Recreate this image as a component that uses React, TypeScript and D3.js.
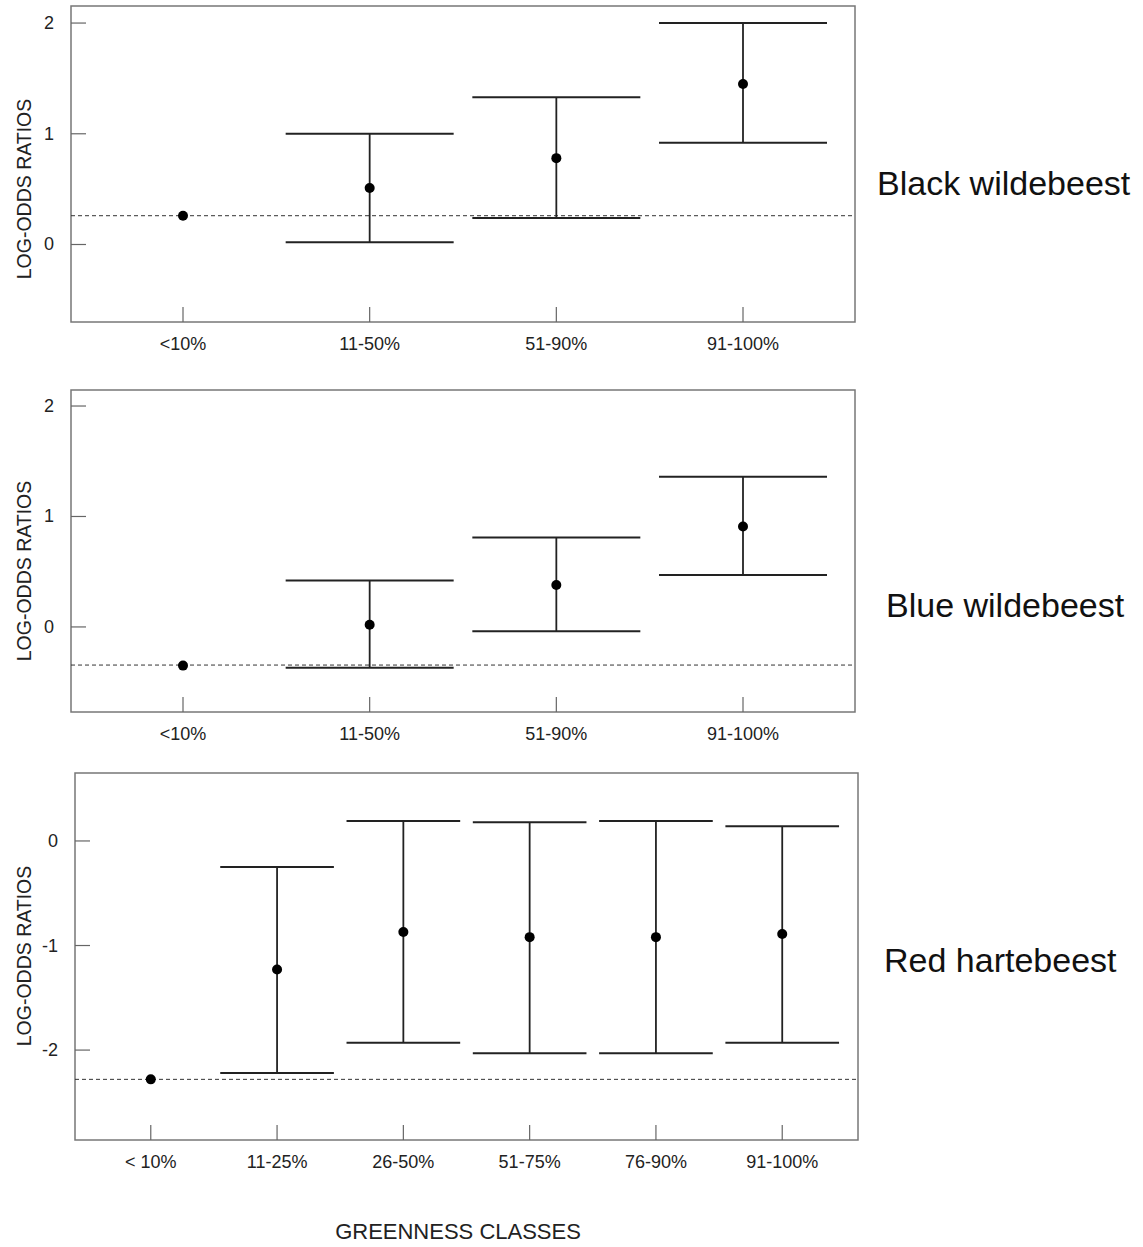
import { useRef, useEffect } from 'react';
import * as d3 from 'd3';

// greenness class labels
const classes4 = ['<10%', '11-50%', '51-90%', '91-100%'];
const classes6 = ['< 10%', '11-25%', '26-50%', '51-75%', '76-90%', '91-100%'];

// Black wildebeest
const blackEst = [0.26, 0.51, 0.78, 1.45];
const blackLo = [null, 0.02, 0.24, 0.92];
const blackHi = [null, 1.0, 1.33, 2.0];
const blackRef = 0.26;

// Blue wildebeest
const blueEst = [-0.35, 0.02, 0.38, 0.91];
const blueLo = [null, -0.37, -0.04, 0.47];
const blueHi = [null, 0.42, 0.81, 1.36];
const blueRef = -0.345;

// Red hartebeest
const redEst = [-2.28, -1.23, -0.87, -0.92, -0.92, -0.89];
const redLo = [null, -2.22, -1.93, -2.03, -2.03, -1.93];
const redHi = [null, -0.25, 0.19, 0.18, 0.19, 0.14];
const redRef = -2.28;

const yTicks1 = [0, 1, 2];
const yTicks3 = [-2, -1, 0];

const FONT = 'Arial, "Liberation Sans", sans-serif';

interface Panel {
  name: string;
  cats: string[];
  est: number[];
  lo: (number | null)[];
  hi: (number | null)[];
  ref: number;
  ticks: number[];
  domain: [number, number];
  box: { left: number; right: number; top: number; bottom: number };
  nameX: number;
  nameY: number;
  yLabelY: number;
}

const panels: Panel[] = [
  {
    name: 'Black wildebeest', cats: classes4, est: blackEst, lo: blackLo, hi: blackHi, ref: blackRef,
    ticks: yTicks1, domain: [-0.7, 2.154],
    box: { left: 71, right: 855, top: 6, bottom: 322 }, nameX: 877, nameY: 195, yLabelY: 189,
  },
  {
    name: 'Blue wildebeest', cats: classes4, est: blueEst, lo: blueLo, hi: blueHi, ref: blueRef,
    ticks: yTicks1, domain: [-0.77, 2.145],
    box: { left: 71, right: 855, top: 390, bottom: 712 }, nameX: 886, nameY: 617, yLabelY: 571,
  },
  {
    name: 'Red hartebeest', cats: classes6, est: redEst, lo: redLo, hi: redHi, ref: redRef,
    ticks: yTicks3, domain: [-2.86, 0.65],
    box: { left: 75, right: 858, top: 773, bottom: 1140 }, nameX: 884, nameY: 972, yLabelY: 956,
  },
];

const App = () => {
  const svgRef = useRef(null);

  useEffect(() => {
    const svg = d3.select(svgRef.current);
    svg.selectAll('*').remove();

    panels.forEach((p) => {
      const { left, right, top, bottom } = p.box;
      const g = svg.append('g');

      const x = d3.scalePoint<string>().domain(p.cats).range([left, right]).padding(0.6);
      const y = d3.scaleLinear().domain(p.domain).range([bottom, top]);
      const capHalf = x.step() * 0.45;

      // frame
      g.append('rect')
        .attr('x', left).attr('y', top)
        .attr('width', right - left).attr('height', bottom - top)
        .attr('fill', 'none').attr('stroke', '#777').attr('stroke-width', 1.5);

      // y ticks (inward)
      p.ticks.forEach((t) => {
        g.append('line')
          .attr('x1', left).attr('x2', left + 15)
          .attr('y1', y(t)).attr('y2', y(t))
          .attr('stroke', '#666').attr('stroke-width', 1.2);
        g.append('text')
          .attr('x', left - 17).attr('y', y(t))
          .attr('text-anchor', 'end').attr('dominant-baseline', 'central')
          .attr('font-family', FONT).attr('font-size', 18).attr('fill', '#222')
          .text(String(t));
      });

      // x ticks (inward) + labels
      p.cats.forEach((c) => {
        g.append('line')
          .attr('x1', x(c)!).attr('x2', x(c)!)
          .attr('y1', bottom).attr('y2', bottom - 15)
          .attr('stroke', '#666').attr('stroke-width', 1.2);
        g.append('text')
          .attr('x', x(c)!).attr('y', bottom + 28)
          .attr('text-anchor', 'middle')
          .attr('font-family', FONT).attr('font-size', 18).attr('fill', '#222')
          .text(c);
      });

      // reference line
      g.append('line')
        .attr('x1', left).attr('x2', right)
        .attr('y1', y(p.ref)).attr('y2', y(p.ref))
        .attr('stroke', '#333').attr('stroke-width', 1)
        .attr('stroke-dasharray', '4,3');

      // error bars
      p.cats.forEach((c, i) => {
        const lo = p.lo[i];
        const hi = p.hi[i];
        const cx = x(c)!;
        if (lo !== null && hi !== null) {
          g.append('line')
            .attr('x1', cx).attr('x2', cx).attr('y1', y(hi)).attr('y2', y(lo))
            .attr('stroke', '#222').attr('stroke-width', 1.8);
          [lo, hi].forEach((v) => {
            g.append('line')
              .attr('x1', cx - capHalf).attr('x2', cx + capHalf)
              .attr('y1', y(v)).attr('y2', y(v))
              .attr('stroke', '#222').attr('stroke-width', 2);
          });
        }
        g.append('circle')
          .attr('cx', cx).attr('cy', y(p.est[i])).attr('r', 5)
          .attr('fill', '#000');
      });

      // y axis title
      g.append('text')
        .attr('transform', `translate(24,${p.yLabelY}) rotate(-90)`)
        .attr('text-anchor', 'middle').attr('dominant-baseline', 'central')
        .attr('font-family', FONT).attr('font-size', 19.5).attr('fill', '#222')
        .text('LOG-ODDS RATIOS');

      // species name
      g.append('text')
        .attr('x', p.nameX).attr('y', p.nameY)
        .attr('font-family', FONT).attr('font-size', 34).attr('fill', '#111')
        .text(p.name);
    });

    svg.append('text')
      .attr('x', 458).attr('y', 1239)
      .attr('text-anchor', 'middle')
      .attr('font-family', FONT).attr('font-size', 22).attr('fill', '#222')
      .text('GREENNESS CLASSES');
  }, []);

  return (
    <svg
      ref={svgRef}
      width={1143}
      height={1247}
      style={{ position: 'absolute', left: 0, top: 0, background: '#fff' }}
    />
  );
};

export default App;
